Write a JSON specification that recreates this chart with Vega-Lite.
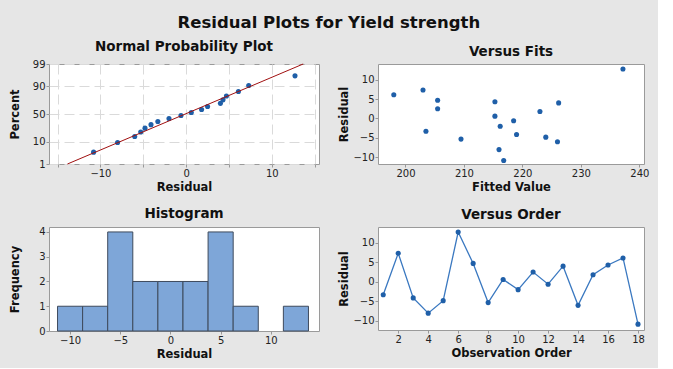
{
  "$schema": "https://vega.github.io/schema/vega-lite/v6.json",
  "background": "#e6e6e6",
  "padding": {"left": 8, "top": 14, "right": 8, "bottom": 8},
  "title": {"text": "Residual Plots for Yield strength", "fontSize": 16.5, "fontWeight": "bold", "font": "DejaVu Sans", "color": "#111", "anchor": "middle", "offset": 8},
  "config": {
    "font": "DejaVu Sans",
    "view": {"stroke": "#9a9a9a", "strokeWidth": 1, "fill": "white"},
    "axis": {"labelFontSize": 10, "labelColor": "#222", "titleFontSize": 11.5, "titleFontWeight": "bold", "titleColor": "#111", "tickColor": "#999", "tickSize": 3, "domain": false, "grid": false, "labelPadding": 1, "titlePadding": 3, "labelOverlap": false},
    "axisY": {"minExtent": 22, "maxExtent": 22, "titlePadding": 7},
    "title": {"fontSize": 13.5, "fontWeight": "bold", "color": "#111", "offset": 6}
  },
  "datasets": {
    "resid": [
      {"obs": 1, "fit": 203.5, "resid": -3.3, "nscore": -0.348},
      {"obs": 2, "fit": 203.0, "resid": 7.3, "nscore": 1.328},
      {"obs": 3, "fit": 219.0, "resid": -4.1, "nscore": -0.496},
      {"obs": 4, "fit": 216.0, "resid": -8.0, "nscore": -1.328},
      {"obs": 5, "fit": 224.0, "resid": -4.8, "nscore": -0.659},
      {"obs": 6, "fit": 237.2, "resid": 12.7, "nscore": 1.774},
      {"obs": 7, "fit": 205.5, "resid": 4.7, "nscore": 0.838},
      {"obs": 8, "fit": 209.5, "resid": -5.3, "nscore": -0.838},
      {"obs": 9, "fit": 215.3, "resid": 0.6, "nscore": 0.068},
      {"obs": 10, "fit": 216.2, "resid": -2.0, "nscore": -0.207},
      {"obs": 11, "fit": 205.5, "resid": 2.5, "nscore": 0.348},
      {"obs": 12, "fit": 218.5, "resid": -0.6, "nscore": -0.068},
      {"obs": 13, "fit": 226.2, "resid": 4.0, "nscore": 0.496},
      {"obs": 14, "fit": 226.0, "resid": -6.0, "nscore": -1.049},
      {"obs": 15, "fit": 223.0, "resid": 1.8, "nscore": 0.207},
      {"obs": 16, "fit": 215.3, "resid": 4.3, "nscore": 0.659},
      {"obs": 17, "fit": 198.0, "resid": 6.1, "nscore": 1.049},
      {"obs": 18, "fit": 216.8, "resid": -10.8, "nscore": -1.774}
    ],
    "fitline": [
      {"resid": -13.85, "nscore": -2.326},
      {"resid": 13.65, "nscore": 2.326}
    ],
    "hist": [
      {"lo": -11.25, "hi": -8.75, "count": 1},
      {"lo": -8.75, "hi": -6.25, "count": 1},
      {"lo": -6.25, "hi": -3.75, "count": 4},
      {"lo": -3.75, "hi": -1.25, "count": 2},
      {"lo": -1.25, "hi": 1.25, "count": 2},
      {"lo": 1.25, "hi": 3.75, "count": 2},
      {"lo": 3.75, "hi": 6.25, "count": 4},
      {"lo": 6.25, "hi": 8.75, "count": 1},
      {"lo": 11.25, "hi": 13.75, "count": 1}
    ]
  },
  "columns": 2,
  "spacing": {"row": 13, "column": 17},
  "concat": [
    {
      "title": "Normal Probability Plot",
      "width": 270, "height": 100,
      "layer": [
        {
          "data": {"name": "resid"},
          "mark": {"type": "point", "filled": true, "size": 26, "color": "#1f5fa8", "opacity": 1},
          "encoding": {
            "x": {"field": "resid", "type": "quantitative", "scale": {"domain": [-16, 15.5], "nice": false, "zero": false},
                  "axis": {"title": "Residual", "values": [-15, -10, -5, 0, 5, 10, 15], "tickCount": 20, "format": "d", "labelExpr": "datum.value % 10 == 0 ? datum.label : ''", "grid": true, "gridDash": [10, 5], "gridColor": "#dadada"}},
            "y": {"field": "nscore", "type": "quantitative", "scale": {"domain": [-2.326, 2.326], "nice": false, "zero": false},
                  "axis": {"title": "Percent", "values": [-2.326, -1.2816, 0, 1.2816, 2.326], "tickCount": 20, "labelExpr": "datum.value < -2 ? '1' : datum.value < -1 ? '10' : datum.value < 1 ? '50' : datum.value < 2 ? '90' : '99'", "grid": true, "gridDash": [10, 5], "gridColor": "#dadada"}}
          }
        },
        {
          "data": {"name": "fitline"},
          "mark": {"type": "line", "color": "#a01010", "strokeWidth": 1},
          "encoding": {
            "x": {"field": "resid", "type": "quantitative"},
            "y": {"field": "nscore", "type": "quantitative"}
          }
        }
      ]
    },
    {
      "title": "Versus Fits",
      "width": 266, "height": 100,
      "layer": [
        {
          "mark": {"type": "rule", "strokeDash": [10, 6], "color": "#b5b5b5", "strokeWidth": 1.5},
          "encoding": {"y": {"datum": 0, "type": "quantitative", "scale": {"domain": [-11.7, 14], "nice": false, "zero": false}}}
        },
        {
          "data": {"name": "resid"},
          "mark": {"type": "point", "filled": true, "size": 26, "color": "#1f5fa8", "opacity": 1},
          "encoding": {
            "x": {"field": "fit", "type": "quantitative", "scale": {"domain": [195.3, 240.8], "nice": false, "zero": false},
                  "axis": {"title": "Fitted Value", "values": [200, 210, 220, 230, 240], "tickCount": 20, "format": "d"}},
            "y": {"field": "resid", "type": "quantitative", "scale": {"domain": [-11.7, 14], "nice": false, "zero": false},
                  "axis": {"title": "Residual", "values": [-10, -5, 0, 5, 10], "tickCount": 20, "format": "d"}}
          }
        }
      ]
    },
    {
      "title": "Histogram",
      "width": 270, "height": 104,
      "data": {"name": "hist"},
      "mark": {"type": "bar", "fill": "#7ea6d8", "stroke": "#3e4a5c", "strokeWidth": 1},
      "encoding": {
        "x": {"field": "lo", "type": "quantitative", "scale": {"domain": [-12.1, 14.8], "nice": false, "zero": false},
              "axis": {"title": "Residual", "values": [-10, -5, 0, 5, 10], "tickCount": 20, "format": "d"}},
        "x2": {"field": "hi"},
        "y": {"field": "count", "type": "quantitative", "scale": {"domain": [0, 4.2], "nice": false},
              "axis": {"title": "Frequency", "values": [0, 1, 2, 3, 4], "tickCount": 20, "format": "d"}},
        "y2": {"datum": 0}
      }
    },
    {
      "title": "Versus Order",
      "width": 266, "height": 103,
      "layer": [
        {
          "mark": {"type": "rule", "strokeDash": [10, 6], "color": "#b5b5b5", "strokeWidth": 1.5},
          "encoding": {"y": {"datum": 0, "type": "quantitative", "scale": {"domain": [-12.3, 14], "nice": false, "zero": false}}}
        },
        {
          "data": {"name": "resid"},
          "mark": {"type": "line", "color": "#3a78c0", "strokeWidth": 1.3, "point": {"filled": true, "size": 26, "color": "#1f5fa8"}},
          "encoding": {
            "x": {"field": "obs", "type": "quantitative", "scale": {"domain": [0.65, 18.4], "nice": false, "zero": false},
                  "axis": {"title": "Observation Order", "values": [2, 4, 6, 8, 10, 12, 14, 16, 18], "tickCount": 20, "format": "d"}},
            "y": {"field": "resid", "type": "quantitative", "scale": {"domain": [-12.3, 14], "nice": false, "zero": false},
                  "axis": {"title": "Residual", "values": [-10, -5, 0, 5, 10], "tickCount": 20, "format": "d"}}
          }
        }
      ]
    }
  ]
}
